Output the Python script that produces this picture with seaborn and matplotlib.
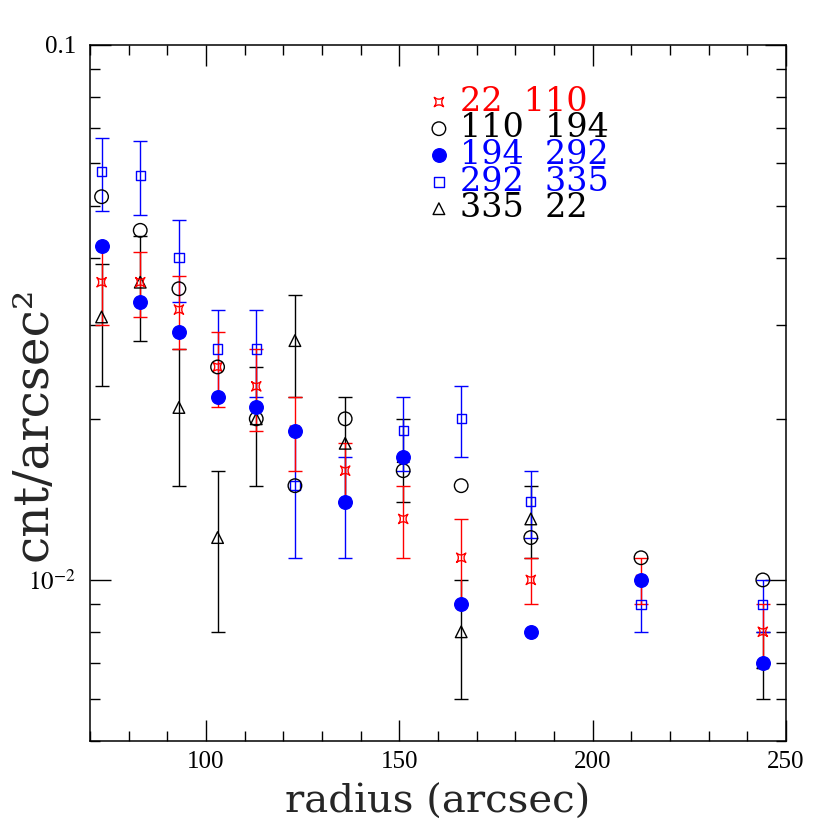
import numpy as np
import matplotlib
matplotlib.use('Agg')
import matplotlib.pyplot as plt
from matplotlib.path import Path
from matplotlib.ticker import MultipleLocator, LogLocator, NullFormatter
import seaborn as sns

# radius bins (arcsec)
radius = [73, 83, 93, 103, 113, 123, 136, 151, 166, 184, 212.5, 244]

# surface brightness per azimuthal sector (cnt/arcsec^2)
sb_22_110 = [0.036, 0.036, 0.032, 0.025, 0.023, 0.019, 0.016, 0.013, 0.011, 0.010, 0.010, 0.008]
err_22_110 = [0.006, 0.005, 0.005, 0.004, 0.004, 0.003, 0.002, 0.002, 0.002, 0.001, 0.001, 0.001]

sb_110_194 = [0.052, 0.045, 0.035, 0.025, 0.020, 0.015, 0.020, 0.016, 0.015, 0.012, 0.011, 0.010]

sb_194_292 = [0.042, 0.033, 0.029, 0.022, 0.021, 0.019, 0.014, 0.017, 0.009, 0.008, 0.010, 0.007]

sb_292_335 = [0.058, 0.057, 0.040, 0.027, 0.027, 0.015, 0.014, 0.019, 0.020, 0.014, 0.009, 0.009]
err_292_335 = [0.009, 0.009, 0.007, 0.005, 0.005, 0.004, 0.003, 0.003, 0.003, 0.002, 0.001, 0.001]

sb_335_22 = [0.031, 0.036, 0.021, 0.012, 0.020, 0.028, 0.018, 0.017, 0.008, 0.013, np.nan, 0.007]
err_335_22 = [0.008, 0.008, 0.006, 0.004, 0.005, 0.006, 0.004, 0.003, 0.002, 0.002, np.nan, 0.001]

legend_order = ['22  110', '110  194', '194  292', '292  335', '335  22']

sns.set_theme(style='ticks')
plt.rcParams['font.family'] = ['Liberation Serif', 'DejaVu Serif']
plt.rcParams['mathtext.fontset'] = 'stix'

# 4-pointed concave star (pgplot style)
star = Path([(1, 1), (0.2, 0), (1, -1), (0, -0.2), (-1, -1), (-0.2, 0), (-1, 1), (0, 0.2), (1, 1), (1, 1)],
            [Path.MOVETO] + [Path.CURVE3] * 8 + [Path.CLOSEPOLY])

fig = plt.figure(figsize=(8.3, 8.3), dpi=100)
ax = fig.add_axes([0.1084, 0.1072, 0.8386, 0.8389])

# error bars first
for y, e, c in [(sb_335_22, err_335_22, 'black'), (sb_292_335, err_292_335, 'blue'),
                (sb_22_110, err_22_110, 'red')]:
    ax.errorbar(radius, y, yerr=e, fmt='none', ecolor=c, elinewidth=1.0, capsize=5, capthick=1.0)

# markers, filled circles on top
series = [
    (sb_335_22, '335  22', '^', 'black', 'none', 70),
    (sb_292_335, '292  335', 's', 'blue', 'none', 45),
    (sb_22_110, '22  110', star, 'red', 'none', 45),
    (sb_110_194, '110  194', 'o', 'black', 'none', 95),
    (sb_194_292, '194  292', 'o', 'blue', 'blue', 95),
]
for y, lab, m, ec, fc, s in series:
    sns.scatterplot(x=radius, y=y, ax=ax, marker=m, s=s, facecolor=fc, edgecolor=ec,
                    linewidth=1.0, label=lab, zorder=3)

ax.set_yscale('log')
ax.set_xlim(70, 250)
ax.set_ylim(0.005, 0.1)

ax.xaxis.set_major_locator(MultipleLocator(50))
ax.xaxis.set_minor_locator(MultipleLocator(10))
ax.set_yticks([0.01, 0.1])
ax.set_yticklabels(['$10^{-2}$', '0.1'])
ax.yaxis.set_minor_locator(LogLocator(base=10, subs=np.arange(2, 10)))
ax.yaxis.set_minor_formatter(NullFormatter())

ax.tick_params(which='both', direction='in', top=True, right=True, colors='black', width=1.0,
               labelsize=18)
ax.tick_params(axis='x', pad=7)
ax.tick_params(axis='y', pad=10)
ax.tick_params(which='major', length=15)
ax.tick_params(which='minor', length=7.5)
for sp in ax.spines.values():
    sp.set_linewidth(1.1)
    sp.set_color('black')

ax.set_xlabel('radius (arcsec)', fontsize=29, family='DejaVu Serif', labelpad=8)
ax.set_ylabel('cnt/arcsec²', fontsize=35, family='DejaVu Serif', va='center')
ax.yaxis.set_label_coords(-0.082, 0.455)

handles, labels = ax.get_legend_handles_labels()
hmap = dict(zip(labels, handles))
ax.legend([hmap[k] for k in legend_order], legend_order, loc='upper left',
          bbox_to_anchor=(0.463, 0.965), frameon=False, handlelength=0.6,
          handletextpad=0.33, labelspacing=-0.16, borderpad=0,
          prop={'family': 'DejaVu Serif', 'size': 24},
          labelcolor=['red', 'black', 'blue', 'blue', 'black'])

fig.savefig('out.png', dpi=100)
